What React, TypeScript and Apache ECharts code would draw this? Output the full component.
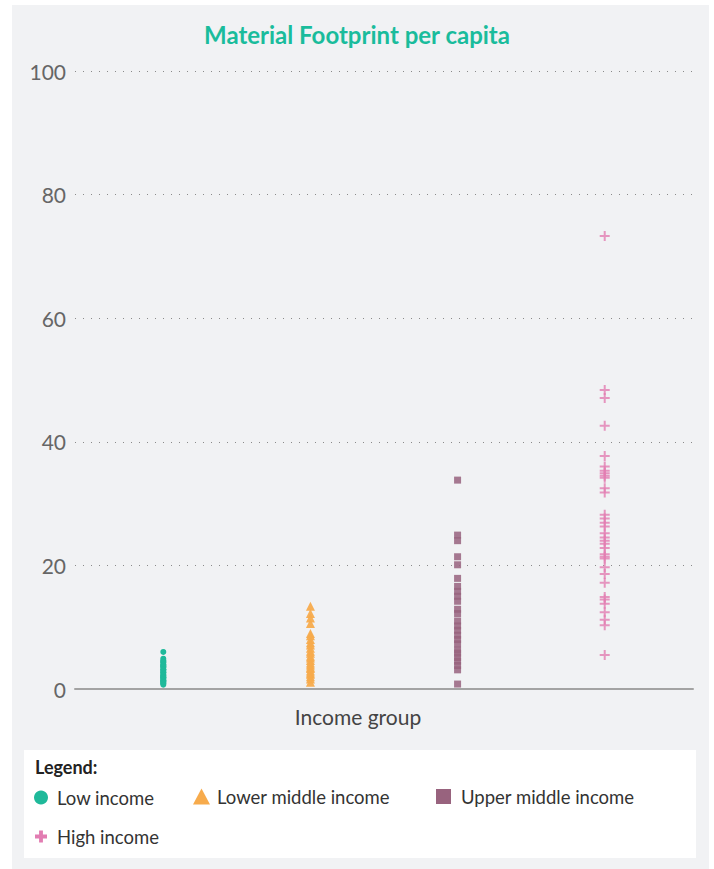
import React, { useEffect, useRef } from "react";
import * as echarts from "echarts";

const title = "Material Footprint per capita";
const xAxisName = "Income group";
const groups = ["Low income", "Lower middle income", "Upper middle income", "High income"];
const colors = ["#1fb99a", "#f7ab4c", "#98637e", "#e27db2"];

const lowIncome = [6.0, 4.9, 4.6, 4.4, 4.3, 4.0, 3.8, 3.7, 3.5, 3.2, 3.1, 2.9, 2.7, 2.6, 2.3, 2.2, 2.0, 1.9, 1.8, 1.6, 1.4, 1.3, 1.2, 1.0, 0.9, 0.7];
const lowerMiddleIncome = [13.4, 12.2, 11.5, 10.6, 9.0, 8.6, 8.0, 7.5, 7.1, 6.6, 6.1, 5.8, 5.3, 5.0, 4.6, 4.2, 3.9, 3.5, 3.3, 2.9, 2.6, 2.4, 2.0, 1.6, 1.1];
const upperMiddleIncome = [33.8, 24.9, 24.0, 21.4, 20.1, 17.9, 16.6, 15.8, 15.0, 14.2, 12.9, 12.2, 11.0, 10.2, 9.5, 8.7, 8.0, 7.3, 6.3, 5.8, 5.1, 4.5, 3.8, 3.1, 0.8];
const highIncome = [73.3, 48.4, 47.1, 42.6, 37.7, 36.0, 35.3, 34.9, 34.5, 34.2, 32.5, 31.8, 28.2, 27.6, 26.9, 26.3, 25.2, 24.5, 24.0, 23.5, 22.8, 21.8, 21.4, 21.1, 19.7, 18.6, 17.2, 14.9, 14.5, 13.8, 12.4, 11.2, 10.3, 5.5];
const yTicks = [0, 20, 40, 60, 80, 100];

const plusPath = "path://M4,0H6V4H10V6H6V10H4V6H0V4H4Z";
const thickPlusPath = "path://M3.4,0H6.6V3.4H10V6.6H6.6V10H3.4V6.6H0V3.4H3.4Z";

export default function App() {
  const ref = useRef<HTMLDivElement>(null);
  useEffect(() => {
    if (!ref.current) return;
    const chart = echarts.init(ref.current, undefined, { renderer: "svg" });
    const valuesList = [lowIncome, lowerMiddleIncome, upperMiddleIncome, highIncome];
    const symbols = ["circle", "triangle", "rect", plusPath];
    const legendIcons = ["circle", "triangle", "rect", thickPlusPath];
    const sizes = [6, 9, 7, 10];
    const opac = [1, 0.95, 0.85, 0.8];
    const legendCfg = [
      { left: 34, top: 788, w: 14, h: 14, pad: 4 },
      { left: 193, top: 787, w: 17, h: 16, pad: 2 },
      { left: 436, top: 787, w: 15, h: 15, pad: 5 },
      { left: 35, top: 827, w: 12, h: 12, pad: 5 },
    ];
    const font = "Lato, 'Noto Sans', sans-serif";
    chart.setOption({
      animation: false,
      textStyle: { fontFamily: font },
      title: {
        text: title,
        left: "center",
        top: 17,
        textStyle: { color: "#1abc9c", fontSize: 24, fontWeight: "bold", fontFamily: font },
      },
      graphic: [
        { type: "rect", z: -10, shape: { x: 12, y: 5, width: 697, height: 864 }, style: { fill: "#f1f2f4" } },
        { type: "rect", z: -9, shape: { x: 24, y: 750, width: 672, height: 108 }, style: { fill: "#ffffff" } },
        { type: "text", x: 35, y: 758, style: { text: "Legend:", fill: "#222", font: `bold 18px ${font}` } },
        {
          type: "text",
          x: 358,
          y: 716,
          style: { text: xAxisName, fill: "#444", font: `21px ${font}`, align: "center", verticalAlign: "middle" },
        },
      ],
      legend: groups.map((g, i) => ({
        data: [{ name: g, icon: legendIcons[i] }],
        left: legendCfg[i].left,
        top: legendCfg[i].top,
        itemWidth: legendCfg[i].w,
        itemHeight: legendCfg[i].h,
        itemGap: 0,
        padding: 0,
        itemStyle: { opacity: 1 },
        textStyle: { fontSize: 18.5, color: "#333", fontFamily: font, padding: [0, 0, 0, legendCfg[i].pad] },
      })),
      grid: { left: 75, right: 21, top: 71, bottom: 180, containLabel: false },
      xAxis: {
        type: "value",
        min: -0.6,
        max: 3.6,
        axisLine: { show: true, lineStyle: { color: "#a3a3a3", width: 2 } },
        axisTick: { show: false },
        axisLabel: { show: false },
        splitLine: { show: false },
      },
      yAxis: {
        type: "value",
        min: yTicks[0],
        max: yTicks[yTicks.length - 1],
        interval: 20,
        axisLine: { show: false },
        axisTick: { show: false },
        axisLabel: { fontSize: 21, color: "#666", margin: 9, fontFamily: font },
        splitLine: {
          show: true,
          showMinLine: false,
          lineStyle: { type: [1, 7], color: "#8a8a8a", width: 1 },
        },
      },
      series: groups.map((g, i) => ({
        name: g,
        type: "scatter",
        symbol: symbols[i],
        symbolSize: sizes[i],
        itemStyle: { color: colors[i], opacity: opac[i] },
        data: valuesList[i].map((v) => [i, v]),
      })),
    });
    return () => chart.dispose();
  }, []);
  return (
    <div
      ref={ref}
      style={{ position: "absolute", left: 0, top: 0, width: 714, height: 869, background: "#ffffff" }}
    />
  );
}
